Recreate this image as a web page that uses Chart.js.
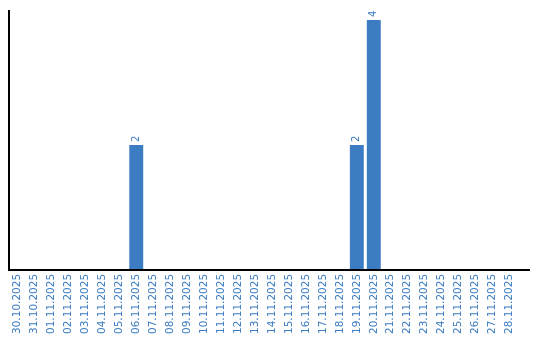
<!DOCTYPE html>
<html>
<head>
<meta charset="utf-8">
<script src="https://cdn.jsdelivr.net/npm/chart.js@4"></script>
<style>
  html, body { margin: 0; padding: 0; background: #fff; }
  #wrap { width: 540px; height: 340px; }
</style>
</head>
<body>
<div id="wrap"><canvas id="chart" width="540" height="340"></canvas></div>
<script>
const dates = [
  '30.10.2025', '31.10.2025', '01.11.2025', '02.11.2025', '03.11.2025',
  '04.11.2025', '05.11.2025', '06.11.2025', '07.11.2025', '08.11.2025',
  '09.11.2025', '10.11.2025', '11.11.2025', '12.11.2025', '13.11.2025',
  '14.11.2025', '15.11.2025', '16.11.2025', '17.11.2025', '18.11.2025',
  '19.11.2025', '20.11.2025', '21.11.2025', '22.11.2025', '23.11.2025',
  '24.11.2025', '25.11.2025', '26.11.2025', '27.11.2025', '28.11.2025'
];
const counts = [
  0, 0, 0, 0, 0, 0, 0, 2, 0, 0,
  0, 0, 0, 0, 0, 0, 0, 0, 0, 0,
  2, 4, 0, 0, 0, 0, 0, 0, 0, 0
];

const blue = '#3b7cc2';

// value labels drawn vertically above each bar
const barLabels = {
  id: 'barLabels',
  afterDatasetsDraw(chart) {
    const ctx = chart.ctx;
    const meta = chart.getDatasetMeta(0);
    ctx.save();
    ctx.fillStyle = blue;
    ctx.font = '10px "DejaVu Sans"';
    ctx.textAlign = 'left';
    ctx.textBaseline = 'middle';
    meta.data.forEach((bar, i) => {
      if (!counts[i]) return;
      ctx.save();
      ctx.translate(bar.x, bar.y - 3);
      ctx.rotate(-Math.PI / 2);
      ctx.fillText(String(counts[i]), 0, 0);
      ctx.restore();
    });
    ctx.restore();
  }
};

// axis lines; the x line runs a little past the last category
const axisLines = {
  id: 'axisLines',
  afterDraw(chart) {
    const {ctx, chartArea: a} = chart;
    ctx.save();
    ctx.strokeStyle = '#000';
    ctx.lineWidth = 2;
    ctx.beginPath();
    ctx.moveTo(a.left, a.top);
    ctx.lineTo(a.left, a.bottom);
    ctx.lineTo(a.right + 12, a.bottom);
    ctx.stroke();
    ctx.restore();
  }
};

function chartIt() {
  const ctx = document.getElementById('chart').getContext('2d');
  new Chart(ctx, {
    type: 'bar',
    data: {
      labels: dates,
      datasets: [{
        data: counts,
        backgroundColor: blue,
        barPercentage: 0.82,
        categoryPercentage: 1
      }]
    },
    options: {
      responsive: false,
      animation: false,
      layout: { padding: { left: 9, right: 22, top: 10, bottom: 2 } },
      plugins: { legend: { display: false }, tooltip: { enabled: false } },
      scales: {
        x: {
          grid: { display: false, drawTicks: false },
          border: { display: false },
          ticks: {
            color: blue,
            font: { family: 'DejaVu Sans', size: 10.5 },
            minRotation: 90,
            maxRotation: 90,
            autoSkip: false,
            padding: 4
          }
        },
        y: {
          min: 0,
          max: 4.16,
          grid: { display: false, drawTicks: false },
          border: { display: false },
          ticks: { display: false }
        }
      }
    },
    plugins: [barLabels, axisLines]
  });
}

if (counts && dates) {
  chartIt();
}
</script>
</body>
</html>
